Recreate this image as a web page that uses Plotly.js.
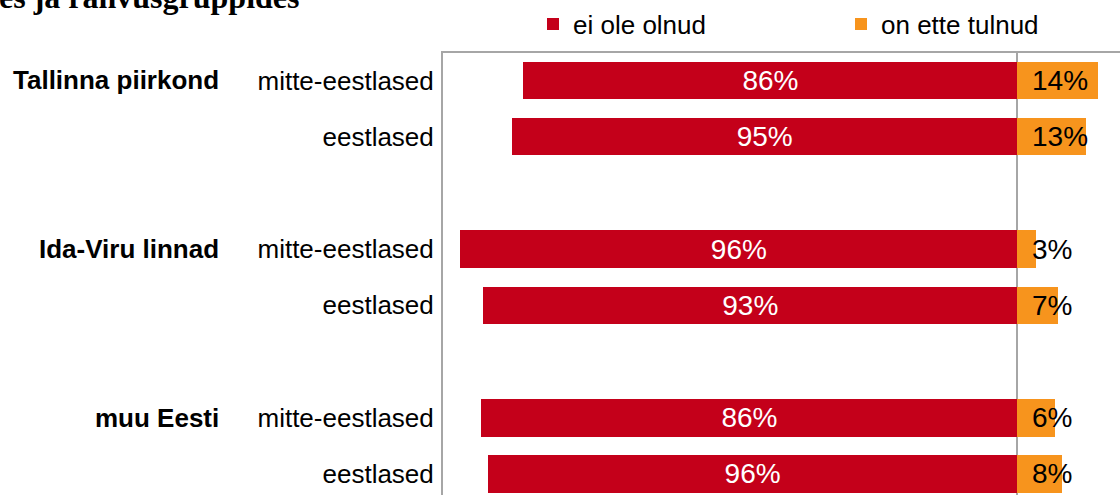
<!DOCTYPE html>
<html>
<head>
<meta charset="utf-8">
<script src="https://cdn.plot.ly/plotly-3.0.1.min.js"></script>
<style>html,body{margin:0;padding:0;background:#fff;}#chart{width:1120px;height:495px;}</style>
</head>
<body>
<div id="chart"></div>
<script>
// ---- data ----
var groups = ["Tallinna piirkond", "Ida-Viru linnad", "muu Eesti"];
var groupPos = [0, 3, 6];
var subLabels = ["mitte-eestlased", "eestlased", "mitte-eestlased", "eestlased", "mitte-eestlased", "eestlased"];
var rowPos = [0, 1, 3, 4, 6, 7];
var seriesNames = ["ei ole olnud", "on ette tulnud"];
var eiOleOlnud = [86, 88, 97, 93, 93.3, 92.2];          // bar lengths
var onEtteTulnud = [14, 12, 3.2, 7.1, 6.6, 7.8];         // bar lengths
var eiOleLabels = ["86%", "95%", "96%", "93%", "86%", "96%"];
var onEtteLabels = ["14%", "13%", "3%", "7%", "6%", "8%"];
var titleText = "es ja rahvusgruppides";

var SANS = "Liberation Sans, Arial, sans-serif";
var LBL = "Liberation Sans, Arial, sans-serif";
var RED = "#C4001A", ORANGE = "#F7941D", GRAY = "#A6A6A6";

var W = 1120, H = 495, ML = 443, MT = 53;
var PW = W - ML, PH = H - MT;
function px2x(px) { return (px - ML) / PW; }
function py2y(py) { return (H - py) / PH; }

var traces = [
  {
    type: "bar", orientation: "h", name: seriesNames[0], legend: "legend",
    y: rowPos, x: eiOleOlnud.map(function (v) { return -v; }),
    width: 0.667, marker: { color: RED, line: { width: 0 } },
    text: eiOleLabels, textposition: "inside", insidetextanchor: "middle",
    textangle: 0, constraintext: "none",
    textfont: { family: LBL, size: 28, color: "#ffffff" },
    hoverinfo: "skip"
  },
  {
    type: "bar", orientation: "h", name: seriesNames[1], legend: "legend2",
    y: rowPos, x: onEtteTulnud,
    width: 0.667, marker: { color: ORANGE, line: { width: 0 } },
    textposition: "none",
    hoverinfo: "skip"
  }
];

var annotations = [];
groups.forEach(function (g, i) {
  annotations.push({
    xref: "paper", yref: "y", x: px2x(221), y: groupPos[i],
    xanchor: "right", yanchor: "middle", showarrow: false,
    text: "<b>" + g + "</b>", font: { family: SANS, size: 26, color: "#000" }
  });
});
onEtteLabels.forEach(function (t, i) {
  annotations.push({
    xref: "x", yref: "y", x: 0, y: rowPos[i], xshift: 13,
    xanchor: "left", yanchor: "middle", showarrow: false,
    text: t, font: { family: LBL, size: 28, color: "#000" }
  });
});
annotations.push({
  xref: "paper", yref: "paper", x: px2x(302), y: py2y(-3),
  xanchor: "right", yanchor: "middle", showarrow: false,
  text: "<b>" + titleText + "</b>",
  font: { family: "Liberation Serif, Times New Roman, serif", size: 32, color: "#000" }
});

function legendAt(px) {
  return {
    orientation: "h", x: px2x(px), xanchor: "left", y: py2y(24), yanchor: "middle",
    font: { family: SANS, size: 26, color: "#000" },
    bgcolor: "rgba(0,0,0,0)", borderwidth: 0
  };
}

var layout = {
  width: W, height: H,
  margin: { l: ML, r: 0, t: MT, b: 0, pad: 0, autoexpand: false },
  paper_bgcolor: "#fff", plot_bgcolor: "#fff",
  barmode: "relative", bargap: 0,
  showlegend: true,
  legend: legendAt(533),
  legend2: legendAt(841),
  xaxis: {
    range: [-100, (W - 1017.3) / 5.75], side: "top",
    showline: true, linecolor: GRAY, linewidth: 2,
    showticklabels: false, ticks: "", showgrid: false,
    zeroline: true, zerolinecolor: GRAY, zerolinewidth: 2,
    layer: "above traces", fixedrange: true
  },
  yaxis: {
    range: [7.374, -0.489],
    tickvals: rowPos, ticktext: subLabels, ticks: "",
    tickfont: { family: SANS, size: 26, color: "#000" },
    ticklabelstandoff: 2,
    showline: true, linecolor: GRAY, linewidth: 2,
    showgrid: false, zeroline: false, fixedrange: true
  },
  annotations: annotations
};

Plotly.newPlot("chart", traces, layout, { displayModeBar: false, staticPlot: true });
</script>
</body>
</html>
